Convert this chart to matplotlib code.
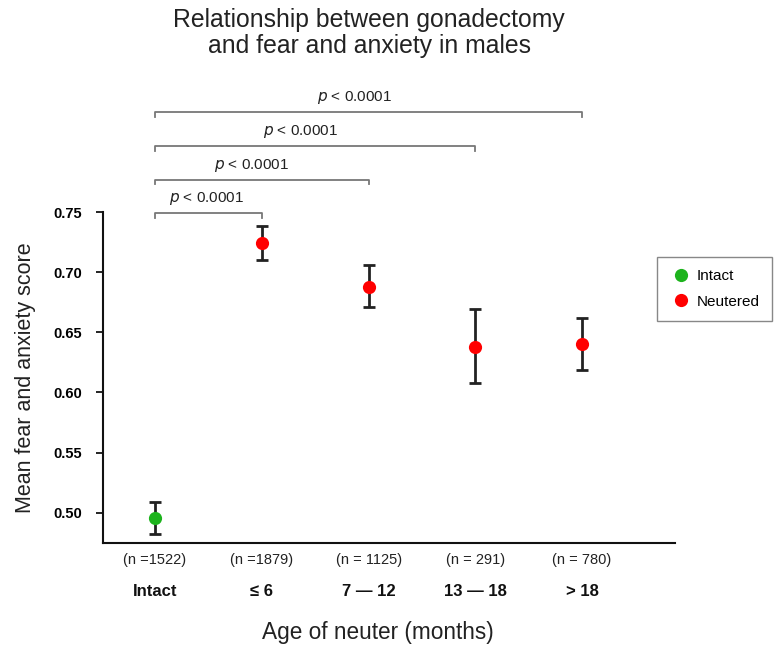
import matplotlib.pyplot as plt
import numpy as np

plt.rcParams['font.family'] = ['Liberation Sans', 'DejaVu Sans']

groups = ["Intact", "\u2264 6", "7 \u2014 12", "13 \u2014 18", "> 18"]
n_labels = ["(n =1522)", "(n =1879)", "(n = 1125)", "(n = 291)", "(n = 780)"]
means = [0.4955, 0.724, 0.688, 0.638, 0.640]
err_low = [0.482, 0.710, 0.671, 0.608, 0.619]
err_high = [0.509, 0.738, 0.706, 0.669, 0.662]
colors = ["#1db31d", "#ff0000", "#ff0000", "#ff0000", "#ff0000"]

# comparison brackets: (from, to, level)
pairs = [(0, 1), (0, 2), (0, 3), (0, 4)]
bracket_y = [0.749, 0.777, 0.805, 0.833]
p_text_x = [0.48, 0.90, 1.36, 1.87]

x = np.arange(len(groups))
means = np.array(means)
yerr = np.array([means - np.array(err_low), np.array(err_high) - means])

fig = plt.figure(figsize=(7.74, 6.49), dpi=100)
ax = fig.add_axes([0.1327, 0.1633, 0.7394, 0.51])

for i in x:
    ax.errorbar(x[i], means[i], yerr=yerr[:, i:i+1], fmt='none', ecolor='#222222',
                elinewidth=2, capsize=4.5, capthick=2, zorder=2)
    ax.plot(x[i], means[i], 'o', color=colors[i], markersize=9.5, zorder=3,
            markeredgewidth=0)

ax.set_xlim(-0.49, 4.87)
ax.set_ylim(0.4748, 0.75)
ax.set_yticks([0.50, 0.55, 0.60, 0.65, 0.70, 0.75])
ax.set_yticklabels(["0.50", "0.55", "0.60", "0.65", "0.70", "0.75"],
                   fontsize=10.5, fontweight='bold')
ax.set_xticks([])
ax.tick_params(axis='y', direction='out', length=5, width=1.2, pad=10)
for s in ['top', 'right']:
    ax.spines[s].set_visible(False)
for s in ['left', 'bottom']:
    ax.spines[s].set_linewidth(1.5)
    ax.spines[s].set_color('#111111')

# brackets
drop = 0.004
for (a, b), yb, tx in zip(pairs, bracket_y, p_text_x):
    ax.plot([a, a, b, b], [yb - drop, yb, yb, yb - drop], color='#777777',
            lw=1.3, clip_on=False)
    ax.text(tx, yb + 0.005, r"$\it{p}$ < 0.0001", ha='center', va='bottom',
            fontsize=11, color='#222222')

# n labels and group labels
trans = ax.get_xaxis_transform()
for i in x:
    ax.text(x[i], -0.051, n_labels[i], transform=trans, ha='center', va='center',
            fontsize=10.5, color='#222222')
    ax.text(x[i], -0.145, groups[i], transform=trans, ha='center', va='center',
            fontsize=12, fontweight='bold', color='#111111')

ax.text(0.481, -0.269, "Age of neuter (months)", transform=ax.transAxes,
        ha='center', va='center', fontsize=16.3, color='#222222')
ax.set_ylabel("Mean fear and anxiety score", fontsize=15.5, color='#222222', labelpad=12)

fig.text(0.477, 0.949, "Relationship between gonadectomy\nand fear and anxiety in males",
         ha='center', va='center', fontsize=17.8, linespacing=1.1, color='#222222')

h1, = ax.plot([], [], 'o', color=colors[0], markersize=9.5, markeredgewidth=0)
h2, = ax.plot([], [], 'o', color=colors[1], markersize=9.5, markeredgewidth=0)
leg = fig.legend([h1, h2], ["Intact", "Neutered"], loc='upper left',
                 bbox_to_anchor=(0.849, 0.604), fontsize=11, fancybox=False,
                 edgecolor='#888888', handletextpad=0.3, borderpad=0.8,
                 labelspacing=0.75, handlelength=1.5, framealpha=1,
                 borderaxespad=0)
leg.get_frame().set_linewidth(1)

fig.savefig("out.png", dpi=100)
